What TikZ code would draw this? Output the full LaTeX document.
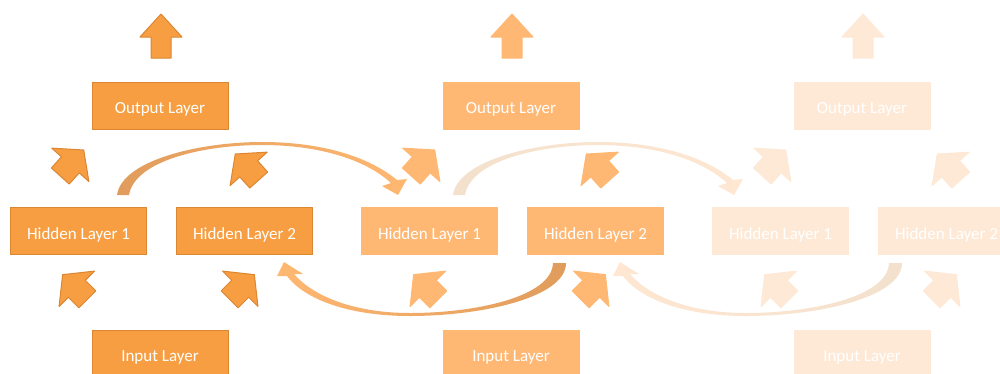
\documentclass[tikz,border=0pt]{standalone}
\usepackage{fontspec}
\setmainfont{Carlito}
\usetikzlibrary{positioning}

\definecolor{orfill}{HTML}{F89E42}
\definecolor{orline}{HTML}{DB8631}
\definecolor{lightfill}{HTML}{FFB874}
\definecolor{palefill}{HTML}{FEE9D6}
\definecolor{arcdark}{HTML}{E09C5C}
\definecolor{arclight}{HTML}{FFB872}
\definecolor{arcpale}{HTML}{F3E1CD}
\definecolor{arcpaler}{HTML}{FFE7D2}

\tikzset{
  layer/.style={rectangle, minimum width=136pt, minimum height=47pt, inner sep=0pt,
    text height=16pt, text depth=0pt,
    text=white, font=\fontsize{17}{20}\selectfont, line width=1pt},
  pics/fatarrow/.style={code={
    \path[pic actions] (17.5,0) -- (-2.5,25) -- (-2.5,12) -- (-17.5,12) -- (-17.5,-12)
      -- (-2.5,-12) -- (-2.5,-25) -- cycle;}},
  pics/uparrow/.style={code={
    \path[pic actions] (0,-22) -- (21,1) -- (10,1) -- (10,22) -- (-10,22) -- (-10,1)
      -- (-21,1) -- cycle;}},
}

\begin{document}
\begin{tikzpicture}[x=1pt,y=-1pt,line join=round]

                \useasboundingbox (0,0) rectangle (1000,373);

                % recurrent arcs from one time step to the next
                \foreach \dx/\ca/\cb in {0/arcdark/arclight, 336/arcpale/arcpaler} {
                  \begin{scope}[xshift=\dx pt]
                    \path[left color=\ca, right color=\cb] (117,195) .. controls (122,160) and (200,142) .. (262,142)
                      .. controls (320,142) and (368,156) .. (397,180) -- (407,179) -- (398,195) -- (382,186) -- (391,183)
                      .. controls (366,160) and (320,145) .. (262,145) .. controls (205,145) and (135,160) .. (129,195) -- cycle;
                    \path[left color=\cb, right color=\ca] (566,263) .. controls (566,298) and (480,316) .. (410,316)
                      .. controls (350,316) and (305,300) .. (287,276) -- (277,276) -- (284,262) -- (303,274) -- (294,274)
                      .. controls (312,295) and (352,313) .. (410,313) .. controls (475,313) and (552,297) .. (553,263) -- cycle;
                  \end{scope}
                }

                % one time step per loop
                \foreach \i/\dx/\fc/\lc in {1/0/orfill/orline, 2/351/lightfill/lightfill, 3/702/palefill/palefill} {
                  \node[layer, fill=\fc, draw=\lc] (hid\i1) at (78.5+\dx,231) {Hidden Layer 1};
                  \node[layer, fill=\fc, draw=\lc, right=29pt of hid\i1] (hid\i2) {Hidden Layer 2};
                  \node[layer, fill=\fc, draw=\lc] (out\i) at (160+\dx,105.5) {Output Layer};
                  \node[layer, fill=\fc, draw=\lc] (in\i) at (160+\dx,353.5) {Input Layer};

                  \pic[fill=\fc, draw=\lc, line width=1pt] at (161+\dx,36) {uparrow};
                  \pic[rotate=48, fill=\fc, draw=\lc, line width=1pt] at (72+\dx,163) {fatarrow};
                  \pic[rotate=132, fill=\fc, draw=\lc, line width=1pt] at (247+\dx,167) {fatarrow};
                  \pic[rotate=135, fill=\fc, draw=\lc, line width=1pt] at (75+\dx,287) {fatarrow};
                  \pic[rotate=45, fill=\fc, draw=\lc, line width=1pt] at (242+\dx,287) {fatarrow};
                }

\end{tikzpicture}
\end{document}
